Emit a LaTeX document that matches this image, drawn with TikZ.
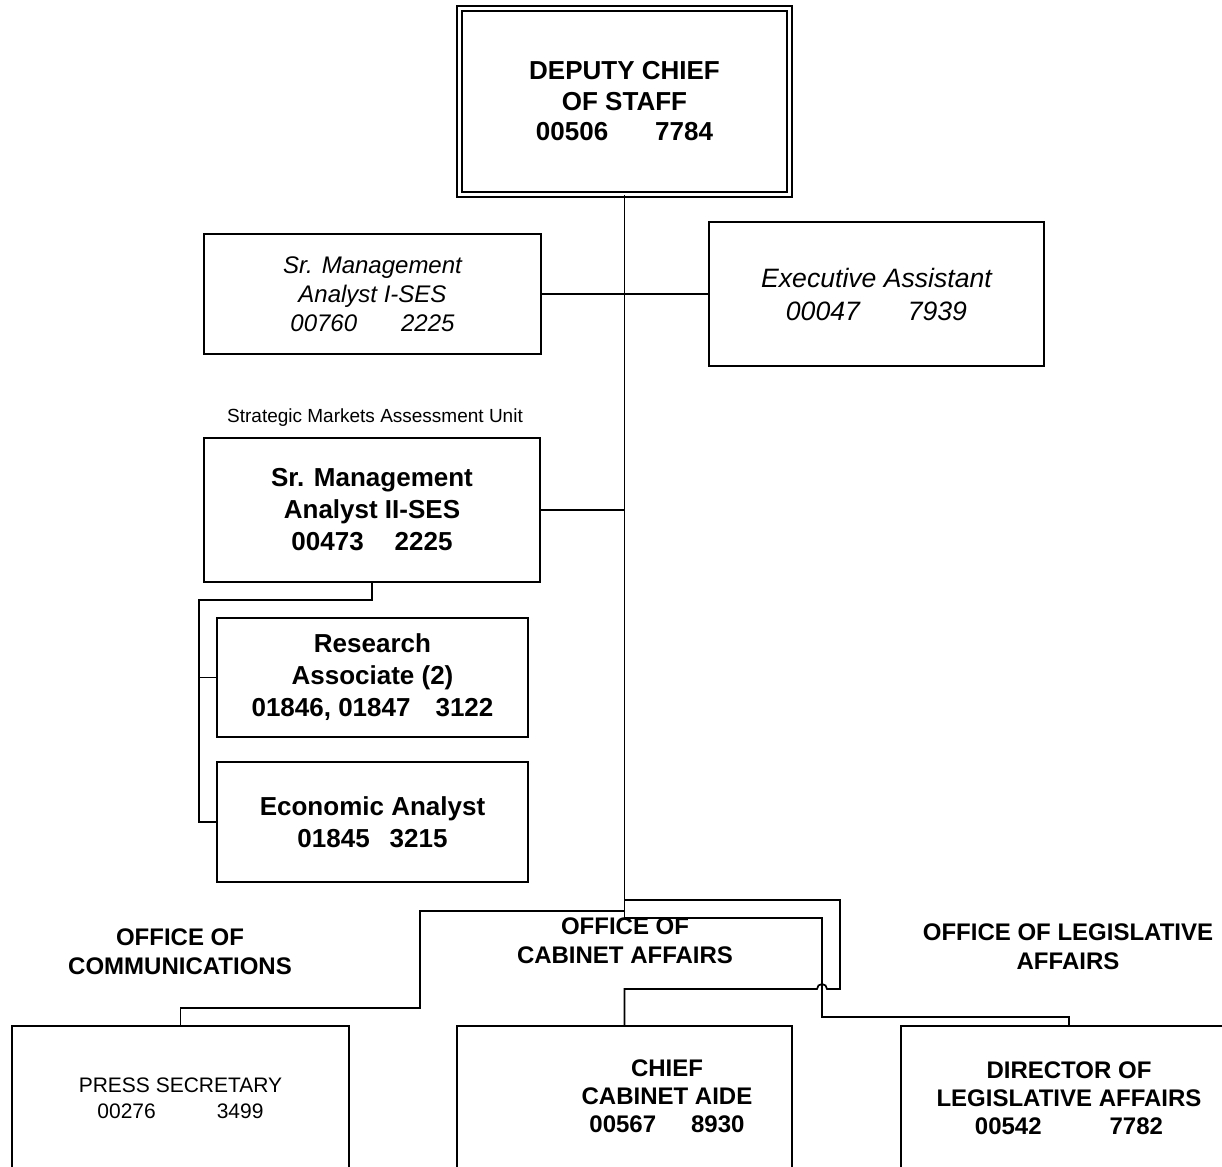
\documentclass[tikz,border=0pt]{standalone}
\usepackage{fontspec}
\setmainfont{Liberation Sans}
\usetikzlibrary{positioning,calc}

\tikzset{
  post/.style={draw, line width=0.85pt, inner sep=0pt, align=center,
    minimum width=168pt, minimum height=72pt,
    font=\bfseries\fontsize{13}{16}\selectfont},
  postit/.style={post, font=\itshape\fontsize{12}{14.5}\selectfont},
  office/.style={inner sep=0pt, align=center,
    font=\bfseries\fontsize{12}{14.5}\selectfont},
  wire/.style={line width=0.85pt},
}

\begin{document}
\begin{tikzpicture}[x=0.5pt,y=-0.5pt]
                \useasboundingbox (0,0) rectangle (1222,1167);
                \clip (0,0) rectangle (1222,1167);

                % Deputy chief of staff
                \node[post, double, double distance=1.6pt, minimum width=165pt, minimum height=93pt,
                  font=\bfseries\fontsize{13}{15.25}\selectfont] (dcs) at (624.5,101.5)
                  {DEPUTY CHIEF\\OF STAFF\\00506\hspace{23.5pt}7784};

                % Staff
                \node[postit, minimum width=168.5pt, minimum height=60pt] (smaI) at (372.5,294)
                  {Sr. Management\\Analyst I-SES\\00760\hspace{22pt}2225};
                \node[postit, minimum width=167.5pt, minimum height=72pt,
                  font=\itshape\fontsize{13.3}{16.5}\selectfont] (exa) at (876.5,294)
                  {Executive Assistant\\00047\hspace{24pt}7939};

                % Strategic markets unit
                \node[inner sep=0pt, font=\fontsize{9.5}{11}\selectfont] (unit) at (375,418)
                  {Strategic Markets Assessment Unit};
                \node[post] (smaII) at (372,510)
                  {Sr. Management\\Analyst II-SES\\00473\hspace{15.5pt}2225};
                \node[post, minimum width=155.5pt, minimum height=59.5pt] (ra) at (372.5,677.5)
                  {Research\\Associate (2)\\01846, 01847\hspace{12.5pt}3122};
                \node[post, minimum width=155.5pt, minimum height=60pt] (ea) at (372.5,822)
                  {Economic Analyst\\01845\hspace{10pt}3215};

                % Offices
                \node[office] (offcom) at (180,952) {OFFICE OF\\COMMUNICATIONS};
                \node[office] (offcab) at (625,941) {OFFICE OF\\CABINET AFFAIRS};
                \node[office] (offleg) at (1068,947) {OFFICE OF LEGISLATIVE\\AFFAIRS};

                \node[post, minimum width=168.5pt, font=\fontsize{10.5}{13}\selectfont] (ps) at (180.5,1098)
                  {PRESS SECRETARY\\00276\hspace{30.5pt}3499};
                \node[post, minimum width=167.5pt] (cca) at (624.5,1098) {};
                \node[office, font=\bfseries\fontsize{12}{14}\selectfont] (ccatxt) at (667,1096)
                  {CHIEF\\CABINET AIDE\\00567\hspace{17.5pt}8930};
                \node[post, font=\bfseries\fontsize{12}{14}\selectfont] (dla) at (1069,1098)
                  {DIRECTOR OF\\LEGISLATIVE AFFAIRS\\00542\hspace{34pt}7782};

                % Lines
                \coordinate (j1) at (625,911);
                \coordinate (j2) at (625,900);
                \coordinate (subbus) at (199,600);
                \draw[wire] (dcs.south) |- (822,918) -- (822,1017) -| (dla.north);
                \draw[wire] (smaI.east) -- (exa.west);
                \draw[wire] (smaII.east) -- (smaII.east -| dcs.south);
                \draw[wire] (smaII.south) |- (subbus) |- (ea.west);
                \draw[wire] (ra.west) -- (ra.west -| subbus);
                \draw[wire] (j1) -| (420,1008) -| (ps.north);
                \draw[wire] (j2) -| (840,989) -- (827,989)
                  arc[start angle=0, end angle=-180, radius=5] -| (cca.north);
            \end{tikzpicture}
\end{document}
